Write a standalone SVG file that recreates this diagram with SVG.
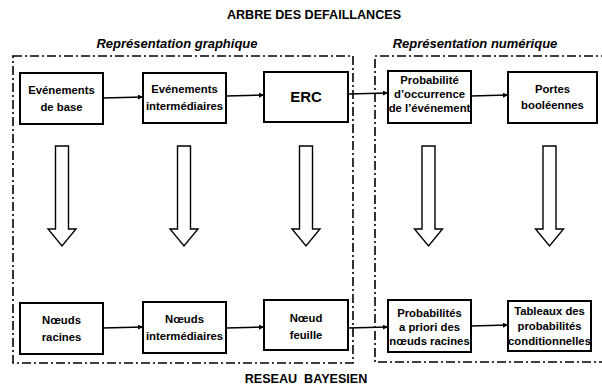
<svg xmlns="http://www.w3.org/2000/svg" width="602" height="387" viewBox="0 0 602 387">
<defs>
<style>
.t{font-family:"Liberation Sans",Arial,sans-serif;font-weight:bold;fill:#000;text-anchor:middle}
.bx{font-size:11.3px}
.box{fill:#fff;stroke:#000;stroke-width:2}
.dash{fill:none;stroke:#000;stroke-width:1.6;stroke-dasharray:9 3 2 3}
.con{stroke:#000;stroke-width:1.6;fill:none;marker-end:url(#ah)}
.blk{fill:#fff;stroke:#000;stroke-width:1.4;stroke-linejoin:miter}
</style>
<marker id="ah" viewBox="0 0 8 8" refX="8" refY="4" markerWidth="5" markerHeight="5" orient="auto" markerUnits="userSpaceOnUse">
<path d="M0,0 L8,4 L0,8 Z" fill="#000"/>
</marker>
<path id="blk" d="M-6.5,0 H6.5 V83 H14 L0,100 L-14,83 H-6.5 Z"/>
</defs>
<rect width="602" height="387" fill="#fff"/>

<text class="t" x="314" y="19" font-size="12.6">ARBRE DES DEFAILLANCES</text>
<text class="t" x="177" y="48" font-size="13" font-style="italic">Représentation graphique</text>
<text class="t" x="475" y="48" font-size="13" font-style="italic">Représentation numérique</text>
<text class="t" x="306" y="383" font-size="12.6" xml:space="preserve">RESEAU  BAYESIEN</text>

<g id="frames">
<rect class="dash" x="13" y="56" width="340" height="307"/>
<path class="dash" d="M610,56 H375 V362 H610"/>
</g>

<g id="connectors">
<line class="con" x1="103" y1="98" x2="143" y2="97"/>
<line class="con" x1="226" y1="96" x2="264" y2="95"/>
<line class="con" x1="348" y1="94" x2="388" y2="93"/>
<line class="con" x1="471" y1="96" x2="508" y2="95"/>
<line class="con" x1="103" y1="328" x2="143" y2="327"/>
<line class="con" x1="226" y1="328" x2="264" y2="327"/>
<line class="con" x1="348" y1="328" x2="388" y2="327"/>
<line class="con" x1="471" y1="326" x2="508" y2="325"/>
<use href="#blk" class="blk" x="62" y="146"/>
<use href="#blk" class="blk" x="184" y="146"/>
<use href="#blk" class="blk" x="306" y="146"/>
<use href="#blk" class="blk" x="428.5" y="146"/>
<use href="#blk" class="blk" x="549.5" y="146"/>
</g>

<g id="n1">
<rect class="box" x="20" y="73" width="83" height="51"/>
<text class="t bx" x="61.5" y="94">Evénements</text>
<text class="t bx" x="61.5" y="111">de base</text>
</g>
<g id="n2">
<rect class="box" x="143" y="73" width="83" height="50"/>
<text class="t bx" x="184.5" y="93">Evénements</text>
<text class="t bx" x="184.5" y="110">intermédiaires</text>
</g>
<g id="n3">
<rect class="box" x="264" y="72" width="84" height="50"/>
<text class="t" x="306" y="102" font-size="15">ERC</text>
</g>
<g id="n4">
<rect class="box" x="388" y="71" width="83" height="52"/>
<text class="t bx" x="429.5" y="84">Probabilité</text>
<text class="t bx" x="429.5" y="98">d’occurrence</text>
<text class="t bx" x="429.5" y="112">de l’événement</text>
</g>
<g id="n5">
<rect class="box" x="508" y="72" width="89" height="51"/>
<text class="t bx" x="552.5" y="93">Portes</text>
<text class="t bx" x="552.5" y="109">booléennes</text>
</g>

<g id="n6">
<rect class="box" x="20" y="303" width="83" height="51"/>
<text class="t bx" x="61.5" y="324">Nœuds</text>
<text class="t bx" x="61.5" y="341">racines</text>
</g>
<g id="n7">
<rect class="box" x="143" y="302" width="83" height="51"/>
<text class="t bx" x="184.5" y="323">Nœuds</text>
<text class="t bx" x="184.5" y="340">intermédiaires</text>
</g>
<g id="n8">
<rect class="box" x="264" y="300" width="84" height="50"/>
<text class="t bx" x="306" y="322">Nœud</text>
<text class="t bx" x="306" y="339">feuille</text>
</g>
<g id="n9">
<rect class="box" x="388" y="300" width="83" height="52"/>
<text class="t bx" x="429.5" y="317">Probabilités</text>
<text class="t bx" x="429.5" y="331">a priori des</text>
<text class="t bx" x="429.5" y="345">nœuds racines</text>
</g>
<g id="n10">
<rect class="box" x="508" y="301" width="83" height="50"/>
<text class="t bx" x="549.5" y="315">Tableaux des</text>
<text class="t bx" x="549.5" y="330">probabilités</text>
<text class="t bx" x="549.5" y="345">conditionnelles</text>
</g>
</svg>
